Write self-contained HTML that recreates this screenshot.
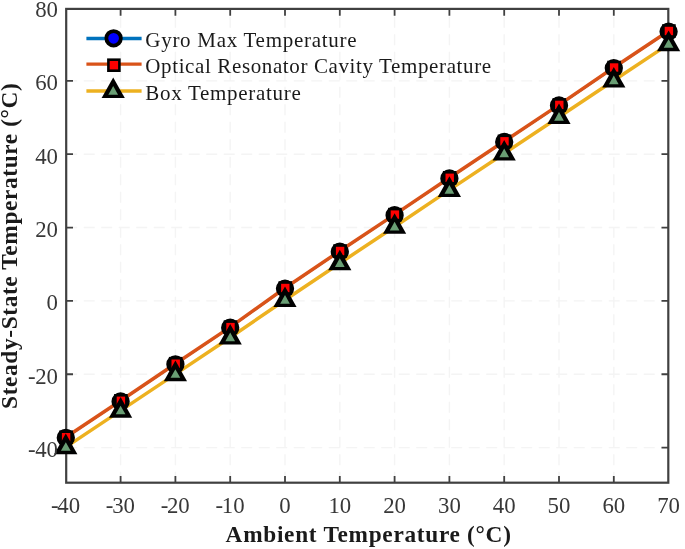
<!DOCTYPE html>
<html lang="en"><head><meta charset="utf-8"><title>Steady-State Temperature vs Ambient Temperature</title>
<style>html,body{margin:0;padding:0;background:#fff}body{width:685px;height:549px;overflow:hidden}svg{display:block;opacity:.999;will-change:transform}text{font-family:"Liberation Serif",serif}</style></head><body>
<svg width="685" height="549" viewBox="0 0 685 549">
<rect width="685" height="549" fill="#fff"/>
<path d="M120.60 482.70V8.90M175.40 482.70V8.90M230.20 482.70V8.90M285.00 482.70V8.90M339.80 482.70V8.90M394.60 482.70V8.90M449.40 482.70V8.90M504.20 482.70V8.90M559.00 482.70V8.90M613.80 482.70V8.90M66.20 447.58H668.30M66.20 374.24H668.30M66.20 300.90H668.30M66.20 227.56H668.30M66.20 154.22H668.30M66.20 80.88H668.30" fill="none" stroke="#f4f4f4" stroke-width="1.4" stroke-dasharray="11 6.5"/>
<polyline points="65.80,437.80 120.60,401.40 175.40,364.30 230.20,327.70 285.00,288.60 339.80,251.60 394.60,215.20 449.40,178.40 504.20,141.90 559.00,105.50 613.80,68.10 668.60,31.60" fill="none" stroke="#0072BD" stroke-width="1.60" stroke-linejoin="round"/>
<path d="M120.60 482.70v-6.80M120.60 8.90v6.80M175.40 482.70v-6.80M175.40 8.90v6.80M230.20 482.70v-6.80M230.20 8.90v6.80M285.00 482.70v-6.80M285.00 8.90v6.80M339.80 482.70v-6.80M339.80 8.90v6.80M394.60 482.70v-6.80M394.60 8.90v6.80M449.40 482.70v-6.80M449.40 8.90v6.80M504.20 482.70v-6.80M504.20 8.90v6.80M559.00 482.70v-6.80M559.00 8.90v6.80M613.80 482.70v-6.80M613.80 8.90v6.80M66.20 447.58h6.80M668.30 447.58h-6.80M66.20 374.24h6.80M668.30 374.24h-6.80M66.20 300.90h6.80M668.30 300.90h-6.80M66.20 227.56h6.80M668.30 227.56h-6.80M66.20 154.22h6.80M668.30 154.22h-6.80M66.20 80.88h6.80M668.30 80.88h-6.80" fill="none" stroke="#404040" stroke-width="1.8"/>
<rect x="66.20" y="8.90" width="602.10" height="473.80" fill="none" stroke="#404040" stroke-width="2.2"/>
<polyline points="65.80,437.20 120.60,400.80 175.40,363.70 230.20,327.10 285.00,288.00 339.80,251.00 394.60,214.60 449.40,177.80 504.20,141.30 559.00,104.90 613.80,67.50 668.60,31.00" fill="none" stroke="#D95319" stroke-width="3.50" stroke-linejoin="round"/>
<polyline points="65.80,447.10 120.60,410.60 175.40,374.10 230.20,337.50 285.00,300.00 339.80,263.20 394.60,226.70 449.40,189.90 504.20,153.50 559.00,117.00 613.80,80.50 668.60,44.10" fill="none" stroke="#EDB120" stroke-width="3.50" stroke-linejoin="round"/>
<circle cx="65.80" cy="437.80" r="7.25" fill="#0000ff" stroke="#000" stroke-width="3.80"/>
<circle cx="120.60" cy="401.40" r="7.25" fill="#0000ff" stroke="#000" stroke-width="3.80"/>
<circle cx="175.40" cy="364.30" r="7.25" fill="#0000ff" stroke="#000" stroke-width="3.80"/>
<circle cx="230.20" cy="327.70" r="7.25" fill="#0000ff" stroke="#000" stroke-width="3.80"/>
<circle cx="285.00" cy="288.60" r="7.25" fill="#0000ff" stroke="#000" stroke-width="3.80"/>
<circle cx="339.80" cy="251.60" r="7.25" fill="#0000ff" stroke="#000" stroke-width="3.80"/>
<circle cx="394.60" cy="215.20" r="7.25" fill="#0000ff" stroke="#000" stroke-width="3.80"/>
<circle cx="449.40" cy="178.40" r="7.25" fill="#0000ff" stroke="#000" stroke-width="3.80"/>
<circle cx="504.20" cy="141.90" r="7.25" fill="#0000ff" stroke="#000" stroke-width="3.80"/>
<circle cx="559.00" cy="105.50" r="7.25" fill="#0000ff" stroke="#000" stroke-width="3.80"/>
<circle cx="613.80" cy="68.10" r="7.25" fill="#0000ff" stroke="#000" stroke-width="3.80"/>
<circle cx="668.60" cy="31.60" r="7.25" fill="#0000ff" stroke="#000" stroke-width="3.80"/>
<rect x="60.60" y="431.70" width="11.00" height="11.00" fill="#ff0000" stroke="#000" stroke-width="2.60"/>
<rect x="115.40" y="395.30" width="11.00" height="11.00" fill="#ff0000" stroke="#000" stroke-width="2.60"/>
<rect x="170.20" y="358.20" width="11.00" height="11.00" fill="#ff0000" stroke="#000" stroke-width="2.60"/>
<rect x="225.00" y="321.60" width="11.00" height="11.00" fill="#ff0000" stroke="#000" stroke-width="2.60"/>
<rect x="279.80" y="282.50" width="11.00" height="11.00" fill="#ff0000" stroke="#000" stroke-width="2.60"/>
<rect x="334.60" y="245.50" width="11.00" height="11.00" fill="#ff0000" stroke="#000" stroke-width="2.60"/>
<rect x="389.40" y="209.10" width="11.00" height="11.00" fill="#ff0000" stroke="#000" stroke-width="2.60"/>
<rect x="444.20" y="172.30" width="11.00" height="11.00" fill="#ff0000" stroke="#000" stroke-width="2.60"/>
<rect x="499.00" y="135.80" width="11.00" height="11.00" fill="#ff0000" stroke="#000" stroke-width="2.60"/>
<rect x="553.80" y="99.40" width="11.00" height="11.00" fill="#ff0000" stroke="#000" stroke-width="2.60"/>
<rect x="608.60" y="62.00" width="11.00" height="11.00" fill="#ff0000" stroke="#000" stroke-width="2.60"/>
<rect x="663.40" y="25.50" width="11.00" height="11.00" fill="#ff0000" stroke="#000" stroke-width="2.60"/>
<polygon points="65.80,433.55 54.20,454.15 77.40,454.15" fill="#000"/><polygon points="65.80,442.15 60.95,450.85 70.65,450.85" fill="#699e74"/>
<polygon points="120.60,397.05 109.00,417.65 132.20,417.65" fill="#000"/><polygon points="120.60,405.65 115.75,414.35 125.45,414.35" fill="#699e74"/>
<polygon points="175.40,360.55 163.80,381.15 187.00,381.15" fill="#000"/><polygon points="175.40,369.15 170.55,377.85 180.25,377.85" fill="#699e74"/>
<polygon points="230.20,323.95 218.60,344.55 241.80,344.55" fill="#000"/><polygon points="230.20,332.55 225.35,341.25 235.05,341.25" fill="#699e74"/>
<polygon points="285.00,286.45 273.40,307.05 296.60,307.05" fill="#000"/><polygon points="285.00,295.05 280.15,303.75 289.85,303.75" fill="#699e74"/>
<polygon points="339.80,249.65 328.20,270.25 351.40,270.25" fill="#000"/><polygon points="339.80,258.25 334.95,266.95 344.65,266.95" fill="#699e74"/>
<polygon points="394.60,213.15 383.00,233.75 406.20,233.75" fill="#000"/><polygon points="394.60,221.75 389.75,230.45 399.45,230.45" fill="#699e74"/>
<polygon points="449.40,176.35 437.80,196.95 461.00,196.95" fill="#000"/><polygon points="449.40,184.95 444.55,193.65 454.25,193.65" fill="#699e74"/>
<polygon points="504.20,139.95 492.60,160.55 515.80,160.55" fill="#000"/><polygon points="504.20,148.55 499.35,157.25 509.05,157.25" fill="#699e74"/>
<polygon points="559.00,103.45 547.40,124.05 570.60,124.05" fill="#000"/><polygon points="559.00,112.05 554.15,120.75 563.85,120.75" fill="#699e74"/>
<polygon points="613.80,66.95 602.20,87.55 625.40,87.55" fill="#000"/><polygon points="613.80,75.55 608.95,84.25 618.65,84.25" fill="#699e74"/>
<polygon points="668.60,30.55 657.00,51.15 680.20,51.15" fill="#000"/><polygon points="668.60,39.15 663.75,47.85 673.45,47.85" fill="#699e74"/>
<line x1="86.4" x2="141.6" y1="38.5" y2="38.5" stroke="#0072BD" stroke-width="3.3"/>
<line x1="86.4" x2="141.6" y1="64.2" y2="64.2" stroke="#D95319" stroke-width="3.3"/>
<line x1="86.4" x2="141.6" y1="91.0" y2="91.0" stroke="#EDB120" stroke-width="3.3"/>
<circle cx="113.60" cy="38.30" r="7.25" fill="#0000ff" stroke="#000" stroke-width="3.80"/>
<rect x="108.40" y="59.70" width="11.00" height="11.00" fill="#ff0000" stroke="#000" stroke-width="2.60"/>
<polygon points="113.20,77.45 101.60,98.05 124.80,98.05" fill="#000"/><polygon points="113.20,86.05 108.35,94.75 118.05,94.75" fill="#699e74"/>
<text class="leg" x="145.3" y="46.6" font-size="21.00" fill="#1a1a1a" textLength="211.2">Gyro Max Temperature</text>
<text class="leg" x="145.3" y="72.9" font-size="21.00" fill="#1a1a1a" textLength="345.8">Optical Resonator Cavity Temperature</text>
<text class="leg" x="145.3" y="99.7" font-size="21.00" fill="#1a1a1a" textLength="155.5">Box Temperature</text>
<text class="xt" x="65.60" y="512.9" font-size="22.80" text-anchor="middle" fill="#383838">-<tspan dx="-1.3">40</tspan></text>
<text class="xt" x="120.40" y="512.9" font-size="22.80" text-anchor="middle" fill="#383838">-<tspan dx="-1.3">30</tspan></text>
<text class="xt" x="175.20" y="512.9" font-size="22.80" text-anchor="middle" fill="#383838">-<tspan dx="-1.3">20</tspan></text>
<text class="xt" x="230.00" y="512.9" font-size="22.80" text-anchor="middle" fill="#383838">-<tspan dx="-1.3">10</tspan></text>
<text class="xt" x="285.00" y="512.9" font-size="22.80" text-anchor="middle" fill="#383838">0</text>
<text class="xt" x="339.80" y="512.9" font-size="22.80" text-anchor="middle" fill="#383838">10</text>
<text class="xt" x="394.60" y="512.9" font-size="22.80" text-anchor="middle" fill="#383838">20</text>
<text class="xt" x="449.40" y="512.9" font-size="22.80" text-anchor="middle" fill="#383838">30</text>
<text class="xt" x="504.20" y="512.9" font-size="22.80" text-anchor="middle" fill="#383838">40</text>
<text class="xt" x="559.00" y="512.9" font-size="22.80" text-anchor="middle" fill="#383838">50</text>
<text class="xt" x="613.80" y="512.9" font-size="22.80" text-anchor="middle" fill="#383838">60</text>
<text class="xt" x="668.60" y="512.9" font-size="22.80" text-anchor="middle" fill="#383838">70</text>
<text class="yt" x="58.0" y="456.88" font-size="22.80" text-anchor="end" fill="#383838">-<tspan dx="-0.3">40</tspan></text>
<text class="yt" x="58.0" y="383.54" font-size="22.80" text-anchor="end" fill="#383838">-<tspan dx="-0.3">20</tspan></text>
<text class="yt" x="58.0" y="310.20" font-size="22.80" text-anchor="end" fill="#383838">0</text>
<text class="yt" x="58.0" y="236.86" font-size="22.80" text-anchor="end" fill="#383838">20</text>
<text class="yt" x="58.0" y="163.52" font-size="22.80" text-anchor="end" fill="#383838">40</text>
<text class="yt" x="58.0" y="90.18" font-size="22.80" text-anchor="end" fill="#383838">60</text>
<text class="yt" x="58.0" y="16.84" font-size="22.80" text-anchor="end" fill="#383838">80</text>
<text id="xl" x="225.6" y="542.1" font-size="23.3" font-weight="bold" textLength="285.3" fill="#1a1a1a">Ambient Temperature (°C)</text>
<text id="yl" transform="translate(16.9 408.9) rotate(-90)" font-size="23.3" font-weight="bold" textLength="325.7" fill="#1a1a1a">Steady-State Temperature (°C)</text>
</svg></body></html>
